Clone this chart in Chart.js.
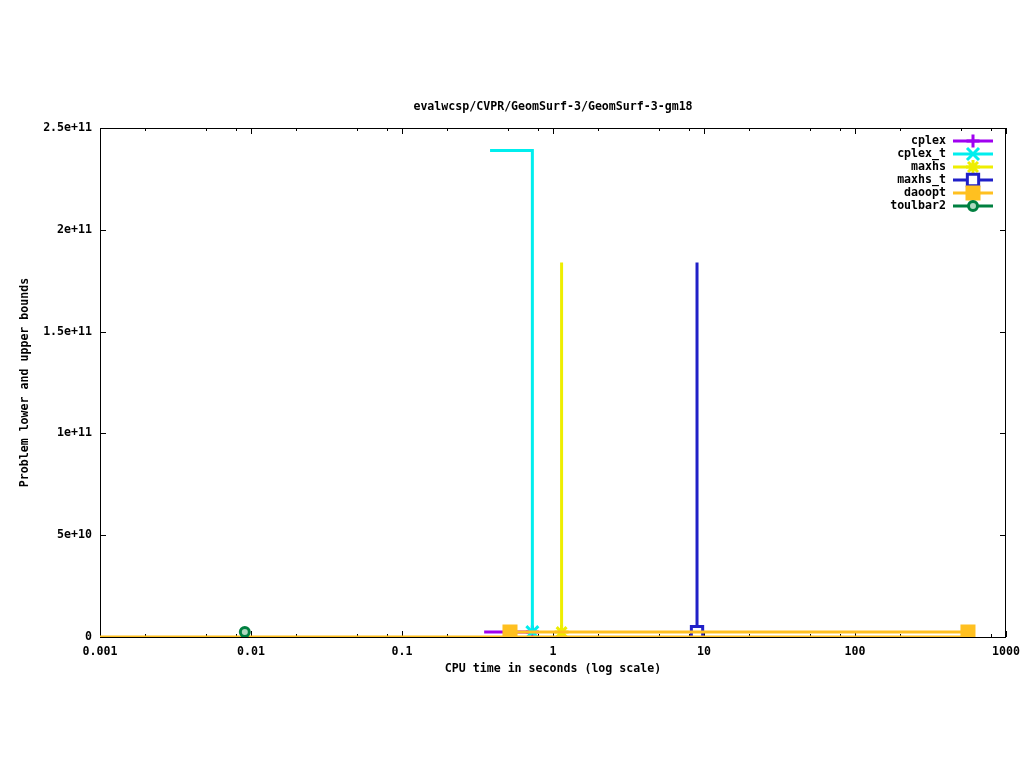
<!DOCTYPE html>
<html>
<head>
<meta charset="utf-8">
<script src="https://cdn.jsdelivr.net/npm/chart.js@4/dist/chart.umd.min.js"></script>
<style>
  html, body { margin: 0; padding: 0; background: #fff; }
  #wrap { width: 1024px; height: 768px; }
</style>
</head>
<body>
<div id="wrap"><canvas id="c"></canvas></div>
<script>
const chartTitle = 'evalwcsp/CVPR/GeomSurf-3/GeomSurf-3-gm18';
const xTitle = 'CPU time in seconds (log scale)';
const yTitle = 'Problem lower and upper bounds';

const xTicks = [0.001, 0.01, 0.1, 1, 10, 100, 1000];
const xTickLabels = ['0.001', '0.01', '0.1', '1', '10', '100', '1000'];
const xMinorSteps = [2, 5, 8];
const yTicks = [0, 5e10, 1e11, 1.5e11, 2e11, 2.5e11];
const yTickLabels = ['0', '5e+10', '1e+11', '1.5e+11', '2e+11', '2.5e+11'];

// bound traces (x = seconds, y = bound)
const cplexX = [0.35, 0.73];
const cplexY = [2.4e9, 2.4e9];
const cplexTX = [0.383, 0.73, 0.73];
const cplexTY = [2.39e11, 2.39e11, 2.4e9];
const maxhsX = [1.14, 1.14];
const maxhsY = [1.84e11, 2.4e9];
const maxhsTX = [8.99, 8.99];
const maxhsTY = [1.84e11, 2.4e9];
const daooptX = [0.519, 560];
const daooptY = [2.4e9, 2.4e9];
const daooptLowX = [0.001, 623];
const daooptLowY = [0, 0];
const toulbarX = [0.0091];
const toulbarY = [2.4e9];

const pts = (xs, ys) => xs.map((x, i) => ({ x, y: ys[i] }));
const FONT = '"DejaVu Sans Mono", monospace';

function series(label, xs, ys, color, style, radii, fill, order, inLegend) {
  return {
    label, data: pts(xs, ys), showLine: true,
    borderColor: color, backgroundColor: color, borderWidth: 3,
    pointStyle: style, pointRadius: radii, pointHoverRadius: radii,
    pointBorderColor: color, pointBackgroundColor: fill, pointBorderWidth: 3,
    borderCapStyle: 'butt', borderJoinStyle: 'miter',
    tension: 0, order, inLegend
  };
}

const datasets = [
  series('cplex', cplexX, cplexY, '#a000f0', 'cross', [0, 6.5], '#a000f0', 7, true),
  series('cplex_t', cplexTX, cplexTY, '#00eeee', 'crossRot', [0, 0, 8.5], '#00eeee', 6, true),
  series('maxhs', maxhsX, maxhsY, '#eeee00', 'star', [0, 7], '#eeee00', 5, true),
  series('maxhs_t', maxhsTX, maxhsTY, '#2020c8', 'rect', [0, 8], '#ffffff', 4, true),
  series('daoopt', daooptX, daooptY, '#ffc020', 'rect', [8.5, 8.5], '#ffc020', 3, true),
  series('daoopt lb', daooptLowX, daooptLowY, '#ffc020', 'rect', [0, 0], '#ffc020', 2, false),
  series('toulbar2', toulbarX, toulbarY, '#008040', 'circle', [4.5], '#b0d8c0', 1, true)
];

const near = (a, b) => Math.abs(a - b) <= Math.abs(b) * 1e-6 + 1e-12;

const decor = {
  id: 'decor',
  beforeDatasetsDraw(chart) {
    const { ctx, chartArea: a, scales: { x, y } } = chart;
    ctx.save();
    ctx.strokeStyle = '#000';
    ctx.lineWidth = 1;
    ctx.strokeRect(a.left + 0.5, a.top + 0.5, a.right - a.left - 1, a.bottom - a.top);
    ctx.beginPath();
    const tick = (v, len) => {
      const px = Math.round(x.getPixelForValue(v)) + 0.5;
      ctx.moveTo(px, a.bottom); ctx.lineTo(px, a.bottom - len);
      ctx.moveTo(px, a.top); ctx.lineTo(px, a.top + len);
    };
    xTicks.forEach((v, i) => {
      tick(v, 6);
      if (i < xTicks.length - 1) xMinorSteps.forEach(m => tick(v * m, 3));
    });
    yTicks.forEach(v => {
      const py = Math.round(y.getPixelForValue(v)) + 0.5;
      ctx.moveTo(a.left, py); ctx.lineTo(a.left + 6, py);
      ctx.moveTo(a.right, py); ctx.lineTo(a.right - 6, py);
    });
    ctx.stroke();
    ctx.restore();
  },
  afterDraw(chart) {
    const { ctx, chartArea: a } = chart;
    const cx = (a.left + a.right) / 2;
    ctx.save();
    ctx.fillStyle = '#000';
    ctx.font = 'bold 11.6px ' + FONT;
    ctx.textBaseline = 'middle';
    ctx.textAlign = 'center';
    ctx.fillText(chartTitle, cx, 107);
    ctx.fillText(xTitle, cx, 669);
    ctx.save();
    ctx.translate(25, (a.top + a.bottom) / 2);
    ctx.rotate(-Math.PI / 2);
    ctx.fillText(yTitle, 0, 0);
    ctx.restore();

    // gnuplot style key, top right inside the frame
    let row = 0;
    chart.data.datasets.forEach(ds => {
      if (!ds.inLegend) return;
      const ly = 141 + row * 13;
      ctx.fillStyle = '#000';
      ctx.textAlign = 'right';
      ctx.fillText(ds.label, 946, ly);
      ctx.strokeStyle = ds.borderColor;
      ctx.lineWidth = 3;
      ctx.beginPath();
      ctx.moveTo(953, ly); ctx.lineTo(993, ly);
      ctx.stroke();
      ctx.fillStyle = ds.pointBackgroundColor;
      const r = ds.pointRadius[ds.pointRadius.length - 1];
      Chart.helpers.drawPoint(ctx, { pointStyle: ds.pointStyle, radius: r, rotation: 0, borderWidth: 3 }, 973, ly);
      row++;
    });
    ctx.restore();
  }
};

new Chart(document.getElementById('c'), {
  type: 'scatter',
  data: { datasets },
  plugins: [decor],
  options: {
    responsive: true,
    maintainAspectRatio: false,
    animation: false,
    layout: { padding: { left: 0, right: 18, top: 128, bottom: 0 } },
    plugins: { legend: { display: false }, title: { display: false }, tooltip: { enabled: false } },
    scales: {
      x: {
        type: 'logarithmic', min: 0.001, max: 1000,
        grid: { display: false, drawTicks: false },
        border: { display: false },
        afterFit(s) { s.height = 131; s.paddingLeft = 0; s.paddingRight = 0; },
        ticks: {
          autoSkip: false, maxRotation: 0, padding: 8, color: '#000',
          font: { family: FONT, size: 11.6, weight: 'bold' },
          callback(v) {
            const i = xTicks.findIndex(t => near(v, t));
            return i >= 0 ? xTickLabels[i] : '';
          }
        }
      },
      y: {
        type: 'linear', min: 0, max: 2.5e11,
        grid: { display: false, drawTicks: false },
        border: { display: false },
        afterFit(s) { s.width = 100; s.paddingTop = 0; s.paddingBottom = 0; },
        ticks: {
          stepSize: 5e10, padding: 8, color: '#000',
          font: { family: FONT, size: 11.6, weight: 'bold' },
          callback(v) {
            const i = yTicks.findIndex(t => near(v, t));
            return i >= 0 ? yTickLabels[i] : '';
          }
        }
      }
    }
  }
});
</script>
</body>
</html>
